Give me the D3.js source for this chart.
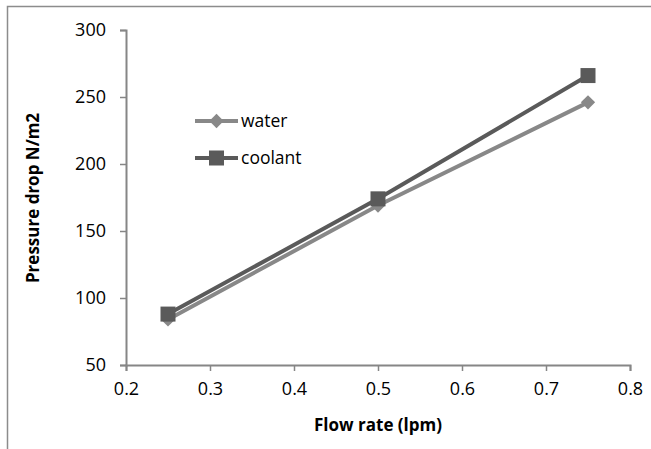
<!DOCTYPE html>
<html lang="en">
<head>
<meta charset="utf-8">
<title>Pressure drop vs flow rate</title>
<script src="https://d3js.org/d3.v7.min.js"></script>
<style>
  body { margin: 0; background: #fff; }
  svg text { font-family: "Open Sans", "Liberation Sans", sans-serif; fill: #000; }
</style>
</head>
<body>
<div id="chart"></div>
<script>
// data
var flowRate = [0.25, 0.5, 0.75];
var water = [84, 169, 246];
var coolant = [88, 174, 266];
var xTicks = [0.2, 0.3, 0.4, 0.5, 0.6, 0.7, 0.8];
var yTicks = [50, 100, 150, 200, 250, 300];

var series = [
  {name: "water", values: water, color: "#888888", shape: "diamond"},
  {name: "coolant", values: coolant, color: "#5a5a5a", shape: "square"}
];

var W = 651, H = 449;
var svg = d3.select("#chart").append("svg")
    .attr("width", W).attr("height", H);

// outer frame (runs off the right and bottom of the picture)
svg.append("rect")
    .attr("x", 7.5).attr("y", 6.5)
    .attr("width", W + 10).attr("height", H + 10)
    .attr("fill", "none").attr("stroke", "#8c8c8c").attr("stroke-width", 1.5);

var x = d3.scaleLinear().domain([0.2, 0.8]).range([126, 630]);
var y = d3.scaleLinear().domain([50, 300]).range([365, 30]);

// x axis
var gx = svg.append("g")
    .attr("transform", "translate(0,365)")
    .call(d3.axisBottom(x).tickValues(xTicks).tickSize(6).tickPadding(11)
      .tickFormat(d3.format(".1f")));
// y axis
var gy = svg.append("g")
    .attr("transform", "translate(126,0)")
    .call(d3.axisLeft(y).tickValues(yTicks).tickSize(6).tickPadding(14));

[gx, gy].forEach(function(g) {
  g.select(".domain").attr("stroke", "#868686").attr("stroke-width", 2);
  g.selectAll(".tick line").attr("stroke", "#868686").attr("stroke-width", 1.5);
  g.selectAll(".tick text").style("font-size", "18px").attr("fill", "#000");
});

// axis titles
svg.append("text")
    .attr("x", 378).attr("y", 431)
    .attr("text-anchor", "middle")
    .style("font-size", "17px").style("font-weight", "bold")
    .text("Flow rate (lpm)");

svg.append("text")
    .attr("transform", "translate(39,198) rotate(-90)")
    .attr("text-anchor", "middle")
    .style("font-size", "17px").style("font-weight", "bold")
    .text("Pressure drop N/m2");

var line = d3.line()
    .x(function(d, i) { return x(flowRate[i]); })
    .y(function(d) { return y(d); });

function marker(g, shape, color, cx, cy) {
  if (shape === "square") {
    g.append("rect")
        .attr("x", cx - 7.5).attr("y", cy - 7.5)
        .attr("width", 15).attr("height", 15)
        .attr("fill", color);
  } else {
    g.append("path")
        .attr("d", d3.symbol().type(d3.symbolDiamond2).size(130)())
        .attr("transform", "translate(" + cx + "," + cy + ")")
        .attr("fill", color);
  }
}

series.forEach(function(s) {
  svg.append("path")
      .datum(s.values)
      .attr("d", line)
      .attr("fill", "none")
      .attr("stroke", s.color)
      .attr("stroke-width", 4);
  var g = svg.append("g");
  s.values.forEach(function(v, i) {
    marker(g, s.shape, s.color, x(flowRate[i]), y(v));
  });
});

// legend
var legend = svg.append("g");
series.forEach(function(s, i) {
  var ly = 121 + i * 37;
  legend.append("line")
      .attr("x1", 195).attr("x2", 238)
      .attr("y1", ly).attr("y2", ly)
      .attr("stroke", s.color).attr("stroke-width", 4);
  marker(legend, s.shape, s.color, 216.5, ly);
  legend.append("text")
      .attr("x", 241).attr("y", ly + 6)
      .style("font-size", "17.5px")
      .text(s.name);
});
</script>
</body>
</html>
